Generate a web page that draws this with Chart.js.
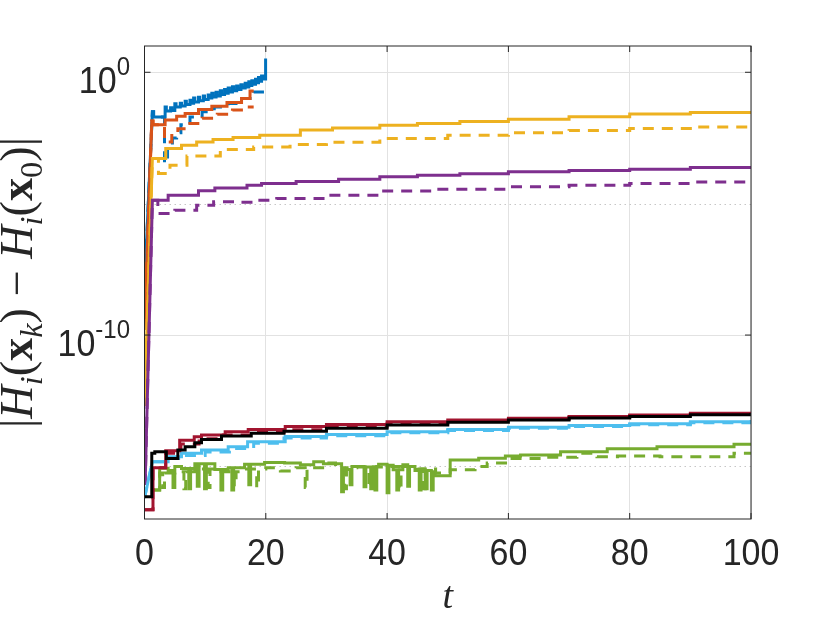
<!DOCTYPE html>
<html>
<head>
<meta charset="utf-8">
<script src="https://cdn.jsdelivr.net/npm/chart.js@4.4.1/dist/chart.umd.min.js"></script>
<style>
  html, body { margin: 0; padding: 0; background: #fff; }
  canvas { display: block; }
</style>
</head>
<body>
<canvas id="c" width="830" height="623"></canvas>
<script>
// values are log10 of |H_i(x_k) - H_i(x_0)|, t is time
const tBlue = [0, 1.3, 1.5, 3.4, 3.6, 4.3, 4.5, 5.0, 5.2, 5.9, 6.1, 6.7, 6.9, 7.5, 7.7, 8.1, 8.3, 8.9, 9.1, 9.7, 9.9, 10.5, 10.7, 11.1, 11.3, 11.8, 12.0, 12.5, 12.7, 13.2, 13.4, 13.8, 14.0, 14.5, 14.7, 15.2, 15.4, 15.9, 16.1, 16.6, 16.8, 17.2, 17.4, 17.7, 17.9, 18.3, 18.5, 18.8, 19.0, 19.3, 19.5, 19.9, 20.0];
const blueSolid = [-8.2, -1.5, -1.7, -1.32, -1.47, -1.35, -1.45, -1.2, -1.32, -1.18, -1.28, -1.1, -1.23, -1.06, -1.18, -0.98, -1.13, -0.95, -1.08, -0.9, -1.04, -0.86, -0.98, -0.8, -0.94, -0.76, -0.9, -0.7, -0.85, -0.66, -0.8, -0.6, -0.75, -0.55, -0.7, -0.52, -0.66, -0.47, -0.6, -0.42, -0.56, -0.36, -0.5, -0.32, -0.46, -0.27, -0.4, -0.2, -0.34, -0.14, -0.26, -0.18, 0.52];

const tBlueD = [0, 1.3, 1.5, 3.3, 3.8, 4.6, 5.3, 6.0, 7.5, 9.5, 11.5, 13.8, 15.8, 18.0, 19.9];
const blueDash = [-8.2, -1.5, -1.7, -3.45, -2.9, -2.5, -2.3, -2.0, -1.7, -1.5, -1.32, -1.19, -1.0, -0.75, -0.75];

const tOrange = [0, 1.2, 1.4, 3.4, 5.3, 6.7, 8.9, 11.1, 13.6, 16.0, 17.4, 18.0];
const orangeSolid = [-9.8, -1.85, -2.0, -1.82, -1.67, -1.57, -1.42, -1.29, -1.15, -1.0, -0.71, -0.71];

const tOrangeD = [0, 1.2, 1.4, 3.3, 4.5, 5.5, 7.0, 9.5, 12.0, 14.5, 16.8, 18.0];
const orangeDash = [-9.8, -1.85, -2.0, -2.65, -2.3, -2.15, -1.95, -1.75, -1.6, -1.44, -1.32, -1.32];

const tYellow = [0, 1.3, 3.5, 6.1, 8.6, 11.3, 14.6, 19, 25.7, 31, 38.8, 45, 52, 60, 70, 80, 90, 100];
const yellowSolid = [-12.7, -3.28, -2.9, -2.78, -2.65, -2.56, -2.48, -2.4, -2.2, -2.12, -2.02, -1.95, -1.87, -1.79, -1.69, -1.59, -1.53, -1.48];

const tYellowD = [0, 1.3, 2.3, 4.2, 7.0, 12.5, 18, 24, 30, 38.8, 50, 60, 70, 80, 90, 100];
const yellowDash = [-12.7, -3.28, -3.85, -3.54, -3.19, -2.94, -2.84, -2.75, -2.66, -2.52, -2.4, -2.3, -2.22, -2.14, -2.08, -2.04];

const tPurple = [0.1, 1.3, 3.9, 8.9, 11.6, 16.9, 19.3, 25, 32, 38.8, 45, 52, 60, 70, 80, 90, 100];
const purpleSolid = [-15.7, -4.87, -4.68, -4.51, -4.4, -4.3, -4.23, -4.16, -4.07, -3.98, -3.92, -3.86, -3.79, -3.74, -3.69, -3.62, -3.57];

const tPurpleD = [0.1, 1.3, 2.2, 5, 8.6, 11.4, 15.2, 18.3, 21.8, 30, 38.8, 48, 60, 70, 80, 90, 100];
const purpleDash = [-15.7, -4.87, -5.37, -5.25, -5.06, -4.93, -4.95, -4.87, -4.8, -4.68, -4.52, -4.45, -4.36, -4.3, -4.23, -4.18, -4.14];

const tCyan = [0, 1.3, 3.9, 6.1, 9.4, 13.8, 17, 23.2, 30, 40, 50, 60, 70, 80, 90, 100];
const cyanSolid = [-16.2, -14.82, -14.63, -14.5, -14.37, -14.25, -14.06, -13.86, -13.78, -13.68, -13.59, -13.51, -13.44, -13.38, -13.3, -13.23];

const tCyanD = [0, 1.3, 3.9, 6.5, 10, 14, 18, 23, 30, 40, 50, 60, 70, 80, 90, 100];
const cyanDash = [-16.2, -14.82, -14.7, -14.58, -14.45, -14.32, -14.12, -13.92, -13.83, -13.72, -13.63, -13.55, -13.48, -13.41, -13.34, -13.27];

const tGreen = [1.4, 2.5, 3.9, 4.7, 5.0, 6.1, 7.3, 7.6, 8.3, 8.7, 9.0, 9.9, 10.2, 11.6, 12.6, 12.9, 13.8, 14.4, 14.7, 16.5, 17.2, 17.5, 19.8, 23.1, 25.7, 27.9, 29.5, 32.5, 32.8, 33.9, 34.2, 36.2, 36.5, 37.3, 37.6, 38.0, 38.3, 38.6, 40.0, 40.3, 41.0, 41.6, 41.9, 42.6, 43.4, 43.7, 44.6, 45.3, 45.6, 46.3, 46.6, 47.3, 47.6, 47.9, 50.4, 55.1, 59.5, 62.0, 68.6, 76.3, 84.5, 97.2, 100];
const greenSolid = [-15.9, -15.07, -15.15, -15.8, -15.0, -15.08, -15.85, -15.08, -14.9, -15.75, -14.9, -15.85, -14.9, -15.12, -15.9, -15.12, -15.05, -15.9, -15.05, -14.92, -15.7, -14.92, -14.85, -14.87, -14.94, -14.82, -14.9, -15.96, -15.12, -15.7, -15.0, -15.77, -15.02, -15.85, -15.02, -15.9, -15.0, -14.92, -16.0, -14.95, -15.13, -15.9, -15.13, -14.94, -15.75, -15.0, -15.15, -15.9, -15.1, -15.85, -15.15, -15.9, -15.2, -15.35, -14.75, -14.69, -14.6, -14.56, -14.44, -14.33, -14.25, -14.16, -14.16];

const tGreenD = [1.4, 2.5, 3.0, 3.3, 5.0, 6.5, 6.8, 8.3, 10.5, 10.8, 12.0, 14.8, 15.1, 16.5, 18.5, 18.8, 20.0, 22.4, 25.0, 26.5, 26.8, 30.0, 31.5, 33.0, 33.3, 35.0, 37.0, 37.3, 40.0, 42.0, 42.3, 45.0, 46.0, 46.3, 48.0, 50.4, 54.5, 56.5, 60.0, 66.0, 71.3, 74.6, 78, 85, 97.2, 100];
const greenDash = [-15.9, -15.25, -15.8, -15.25, -15.2, -15.85, -15.2, -15.1, -15.8, -15.1, -15.2, -15.75, -15.2, -15.1, -15.8, -15.1, -15.05, -15.17, -15.05, -15.8, -15.05, -14.87, -15.05, -15.85, -15.05, -15.02, -15.8, -15.02, -15.0, -15.9, -15.0, -15.1, -15.85, -15.1, -15.25, -15.13, -15.0, -14.87, -14.7, -14.65, -14.5, -14.63, -14.6, -14.63, -14.5, -14.5];

const tRed = [0, 0.9, 1.4, 3.5, 5.8, 8.2, 9.4, 13.3, 17.1, 23.2, 30, 40, 50, 60, 70, 80, 90, 100];
const redSolid = [-16.65, -16.65, -15.05, -14.4, -14.0, -13.87, -13.8, -13.68, -13.59, -13.48, -13.4, -13.3, -13.23, -13.17, -13.1, -13.04, -12.98, -12.92];

const tRedD = [0, 0.9, 1.4, 3.5, 6, 9, 13, 18, 23, 30, 40, 50, 60, 70, 80, 90, 100];
const redDash = [-16.65, -16.65, -15.05, -14.5, -14.15, -13.95, -13.8, -13.7, -13.6, -13.5, -13.38, -13.28, -13.2, -13.13, -13.07, -13.0, -12.94];

const tBlack = [0, 0.6, 1.2, 1.7, 3.6, 5.5, 6.7, 8.3, 9.4, 12.7, 17.6, 23, 30, 40, 50, 60, 70, 80, 90, 100];
const blackSolid = [-16.15, -16.15, -14.5, -14.44, -14.7, -14.37, -14.25, -14.1, -13.97, -13.84, -13.74, -13.66, -13.55, -13.42, -13.32, -13.23, -13.16, -13.1, -13.03, -12.97];

const xTicks = [0, 20, 40, 60, 80, 100];
const yTickExp = [0, -10];
const minorGridExp = [-5, -15];

// series values only change at the listed times (first segment is the initial ramp)
function stair(ts, vs, ramp) {
  const pts = [{ x: ts[0], y: 10 ** vs[0] }];
  for (let i = 1; i < ts.length; i++) {
    if (i > 1 || !ramp) pts.push({ x: ts[i], y: 10 ** vs[i - 1] });
    pts.push({ x: ts[i], y: 10 ** vs[i] });
  }
  return pts;
}

const series = [
  ['blue', tBlue, blueSolid, '#0072BD', false, true],
  ['blue--', tBlueD, blueDash, '#0072BD', true, true],
  ['orange', tOrange, orangeSolid, '#D95319', false, true],
  ['orange--', tOrangeD, orangeDash, '#D95319', true, true],
  ['yellow', tYellow, yellowSolid, '#EDB120', false, true],
  ['yellow--', tYellowD, yellowDash, '#EDB120', true, true],
  ['purple', tPurple, purpleSolid, '#7E2F8E', false, true],
  ['purple--', tPurpleD, purpleDash, '#7E2F8E', true, true],
  ['cyan', tCyan, cyanSolid, '#4DBEEE', false, true],
  ['cyan--', tCyanD, cyanDash, '#4DBEEE', true, true],
  ['green', tGreen, greenSolid, '#77AC30', false, false],
  ['green--', tGreenD, greenDash, '#77AC30', true, false],
  ['red', tRed, redSolid, '#A2142F', false, true],
  ['red--', tRedD, redDash, '#A2142F', true, true],
  ['black', tBlack, blackSolid, '#000000', false, true]
];

const datasets = series.map(([label, ts, vs, color, dashed, ramp], i) => ({
  label,
  data: stair(ts, vs, ramp),
  borderColor: color,
  borderWidth: 3,
  borderDash: dashed ? [11, 8] : [],
  pointRadius: 0,
  tension: 0,
  fill: false,
  order: -i
}));

const TXT = '#262626';
const SANS = '"Liberation Sans", Arial, sans-serif';
const SERIF = '"Liberation Serif", "Times New Roman", serif';
const textStretch = 1.1;

function stretched(ctx, txt, px, py, align, font) {
  ctx.save();
  ctx.translate(px, py);
  ctx.scale(1, textStretch);
  ctx.font = font;
  ctx.textAlign = align;
  ctx.textBaseline = 'alphabetic';
  ctx.fillText(txt, 0, 0);
  ctx.restore();
}

// |H_i(x_k) - H_i(x_0)| pieces: text, style (n upright, i italic, b bold, s = subscript)
const yTitle = [['|', 'n'], ['H', 'i'], ['i', 'is'], ['(', 'n'], ['x', 'b'], ['k', 'is'], [')', 'n'],
  [' \u2212 ', 'n'], ['H', 'i'], ['i', 'is'], ['(', 'n'], ['x', 'b'], ['0', 'ns'], [')', 'n'], ['|', 'n']];

function partFont(style, size) {
  const s = style.includes('s') ? size * 0.7 : size;
  if (style[0] === 'i') return 'italic ' + s + 'px ' + SERIF;
  if (style[0] === 'b') return 'bold ' + s + 'px ' + SERIF;
  return s + 'px ' + SERIF;
}

const decor = {
  id: 'decor',
  beforeDatasetsDraw(chart) {
    const { ctx, chartArea: a, scales: { y } } = chart;
    ctx.save();
    ctx.strokeStyle = '#c6c6c6';
    ctx.lineWidth = 1;
    ctx.setLineDash([1.5, 3.5]);
    for (const e of minorGridExp) {
      const py = Math.round(y.getPixelForValue(10 ** e)) + 0.5;
      ctx.beginPath();
      ctx.moveTo(a.left, py);
      ctx.lineTo(a.right, py);
      ctx.stroke();
    }
    ctx.restore();
  },
  afterDraw(chart) {
    const { ctx, chartArea: a, scales: { x, y } } = chart;
    ctx.save();
    ctx.strokeStyle = TXT;
    ctx.lineWidth = 1;
    ctx.strokeRect(a.left, a.top, a.right - a.left, a.bottom - a.top);
    ctx.beginPath();
    for (const v of xTicks) {
      const px = x.getPixelForValue(v);
      ctx.moveTo(px, a.bottom); ctx.lineTo(px, a.bottom - 6);
      ctx.moveTo(px, a.top); ctx.lineTo(px, a.top + 6);
    }
    for (const e of yTickExp) {
      const py = y.getPixelForValue(10 ** e);
      ctx.moveTo(a.left, py); ctx.lineTo(a.left + 6, py);
      ctx.moveTo(a.right, py); ctx.lineTo(a.right - 6, py);
    }
    ctx.stroke();

    ctx.fillStyle = TXT;
    for (const v of xTicks) {
      stretched(ctx, String(v), x.getPixelForValue(v), a.bottom + 46, 'center', '34px ' + SANS);
    }
    for (const e of yTickExp) {
      const py = y.getPixelForValue(10 ** e);
      const expFont = '24px ' + SANS;
      ctx.font = expFont;
      const w = ctx.measureText(String(e)).width;
      stretched(ctx, String(e), 130, py + 3, 'right', expFont);
      stretched(ctx, '10', 130 - w, py + 21, 'right', '34px ' + SANS);
    }

    // x title
    ctx.font = 'italic 38px ' + SERIF;
    ctx.textAlign = 'center';
    ctx.textBaseline = 'alphabetic';
    ctx.fillText('t', (a.left + a.right) / 2, 608);

    // y title, fitted to its length in the figure
    let size = 36, total = 0;
    for (const [txt, st] of yTitle) { ctx.font = partFont(st, size); total += ctx.measureText(txt).width; }
    size = size * 291 / total;
    total = 0;
    const widths = yTitle.map(([txt, st]) => { ctx.font = partFont(st, size); const w = ctx.measureText(txt).width; total += w; return w; });
    ctx.translate(32, (a.top + a.bottom) / 2);
    ctx.rotate(-Math.PI / 2);
    ctx.textAlign = 'left';
    let cx = -total / 2;
    yTitle.forEach(([txt, st], i) => {
      ctx.font = partFont(st, size);
      ctx.fillText(txt, cx, st.includes('s') ? size * 0.22 : 0);
      cx += widths[i];
    });
    ctx.restore();
  }
};

new Chart(document.getElementById('c'), {
  type: 'line',
  data: { datasets },
  options: {
    responsive: false,
    animation: false,
    devicePixelRatio: 1,
    layout: { padding: { left: 0, right: 79, top: 46, bottom: 0 } },
    plugins: { legend: { display: false }, tooltip: { enabled: false } },
    elements: { line: { borderJoinStyle: 'miter', borderCapStyle: 'butt' } },
    scales: {
      x: {
        type: 'linear',
        min: 0,
        max: 100,
        afterBuildTicks: s => { s.ticks = xTicks.map(v => ({ value: v })); },
        afterFit: s => { s.height = 104; },
        ticks: { display: false },
        grid: { color: '#e2e2e2', lineWidth: 1, drawTicks: false },
        border: { display: false }
      },
      y: {
        type: 'logarithmic',
        min: 1e-17,
        max: 1e1,
        afterBuildTicks: s => { s.ticks = yTickExp.map(e => ({ value: 10 ** e })); },
        afterFit: s => { s.width = 144.5; },
        ticks: { display: false },
        grid: { color: '#e2e2e2', lineWidth: 1, drawTicks: false },
        border: { display: false }
      }
    }
  },
  plugins: [decor]
});
</script>
</body>
</html>
